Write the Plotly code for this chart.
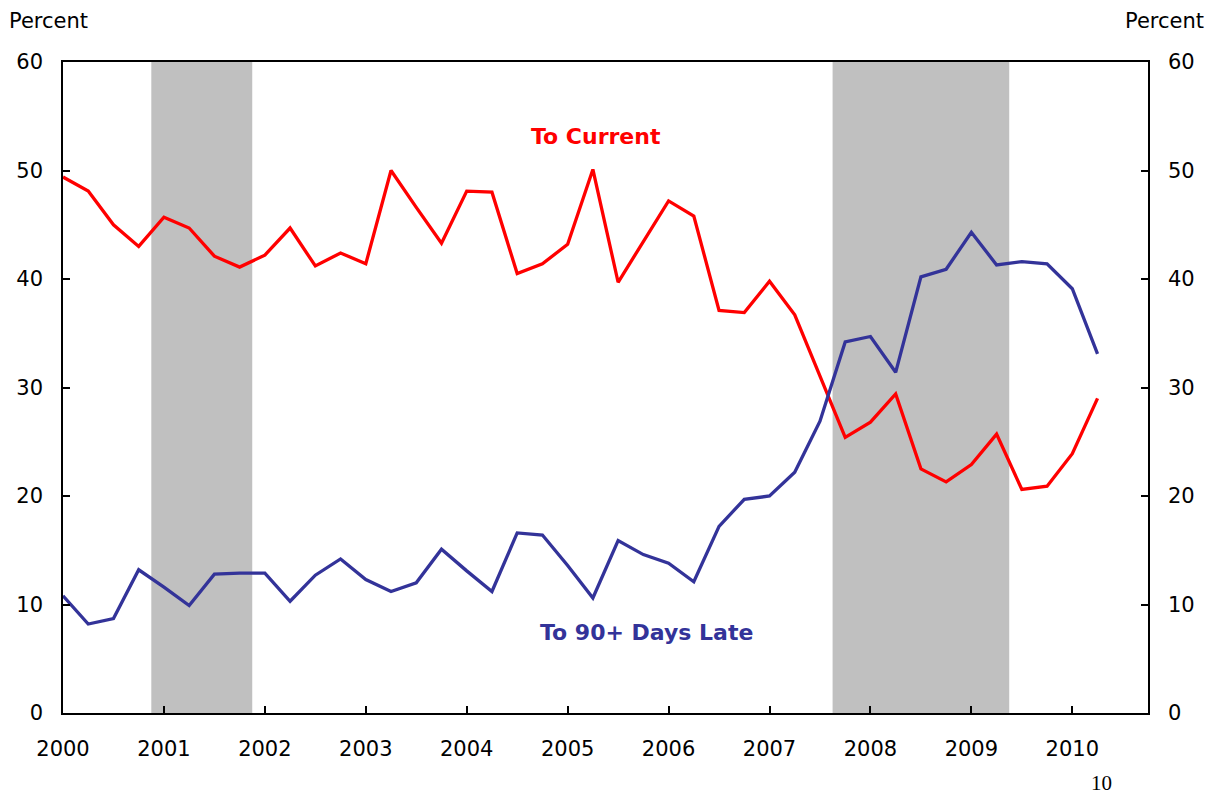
import plotly.graph_objects as go

# Quarterly observations, 2000Q1 .. 2010Q2
quarters = [2000 + i / 4 for i in range(42)]

to_current = [49.4, 48.1, 45.0, 43.0, 45.7, 44.7, 42.1, 41.1, 42.2, 44.7,
              41.2, 42.4, 41.4, 50.0, 46.6, 43.3, 48.1, 48.0, 40.5, 41.4,
              43.2, 50.1, 39.7, 43.5, 47.2, 45.8, 37.1, 36.9, 39.8, 36.7,
              31.0, 25.4, 26.8, 29.4, 22.5, 21.3, 22.9, 25.7, 20.6, 20.9,
              23.9, 29.0]

to_90_late = [10.8, 8.2, 8.7, 13.2, 11.6, 9.9, 12.8, 12.9, 12.9, 10.3,
              12.7, 14.2, 12.3, 11.2, 12.0, 15.1, 13.1, 11.2, 16.6, 16.4,
              13.6, 10.6, 15.9, 14.6, 13.8, 12.1, 17.2, 19.7, 20.0, 22.2,
              26.9, 34.2, 34.7, 31.4, 40.2, 40.9, 44.3, 41.3, 41.6, 41.4,
              39.1, 33.1]

recession_start = [2000.875, 2007.625]
recession_end = [2001.875, 2009.375]

year_ticks = list(range(2000, 2011))
y_ticks = [0, 10, 20, 30, 40, 50, 60]

RED = "#FF0000"
BLUE = "#333399"
FONT = "DejaVu Sans"

fig = go.Figure()
fig.add_trace(go.Scatter(x=quarters, y=to_current, mode="lines",
                         line=dict(color=RED, width=3.3), name="To Current",
                         yaxis="y"))
fig.add_trace(go.Scatter(x=quarters, y=to_90_late, mode="lines",
                         line=dict(color=BLUE, width=3.3), name="To 90+ Days Late",
                         yaxis="y2"))

shapes = []
for s, e in zip(recession_start, recession_end):
    shapes.append(dict(type="rect", xref="x", yref="paper", x0=s, x1=e,
                       y0=0, y1=1, fillcolor="#C0C0C0", line=dict(width=0),
                       layer="below"))

axis_common = dict(showgrid=False, zeroline=False, showline=True,
                   linecolor="black", linewidth=1.5, ticks="inside",
                   ticklen=7, tickcolor="black", tickwidth=1.5,
                   automargin=False,
                   tickfont=dict(family=FONT, size=21, color="black"))

fig.update_layout(
    width=1211, height=786,
    margin=dict(l=55, r=71, t=54, b=81),
    paper_bgcolor="white", plot_bgcolor="white",
    showlegend=False,
    shapes=shapes,
    xaxis=dict(range=[2000, 2010.75], tickvals=year_ticks,
               ticktext=[str(y) for y in year_ticks], mirror=True,
               ticklabelstandoff=16, **axis_common),
    yaxis=dict(range=[0, 60], tickvals=y_ticks, ticklabelstandoff=14,
               **axis_common),
    yaxis2=dict(range=[0, 60], tickvals=y_ticks, overlaying="y", side="right",
                ticklabelstandoff=14, **axis_common),
    annotations=[
        dict(text="Percent", xref="paper", yref="paper", x=-0.0516, y=1.063,
             xanchor="left", yanchor="middle", showarrow=False,
             font=dict(family=FONT, size=21, color="black")),
        dict(text="Percent", xref="paper", yref="paper", x=1.0535, y=1.063,
             xanchor="right", yanchor="middle", showarrow=False,
             font=dict(family=FONT, size=21, color="black")),
        dict(text="<b>To Current</b>", x=2005.28, y=53.1, xref="x", yref="y",
             showarrow=False, font=dict(family=FONT, size=22, color=RED)),
        dict(text="<b>To 90+ Days Late</b>", x=2005.78, y=7.4, xref="x",
             yref="y", showarrow=False,
             font=dict(family=FONT, size=22, color=BLUE)),
        dict(text="10", xref="paper", yref="paper", x=0.9576, y=-0.1075,
             xanchor="center", yanchor="middle", showarrow=False,
             font=dict(family="Liberation Serif", size=21, color="black")),
    ],
)

fig.write_html("out.html")
